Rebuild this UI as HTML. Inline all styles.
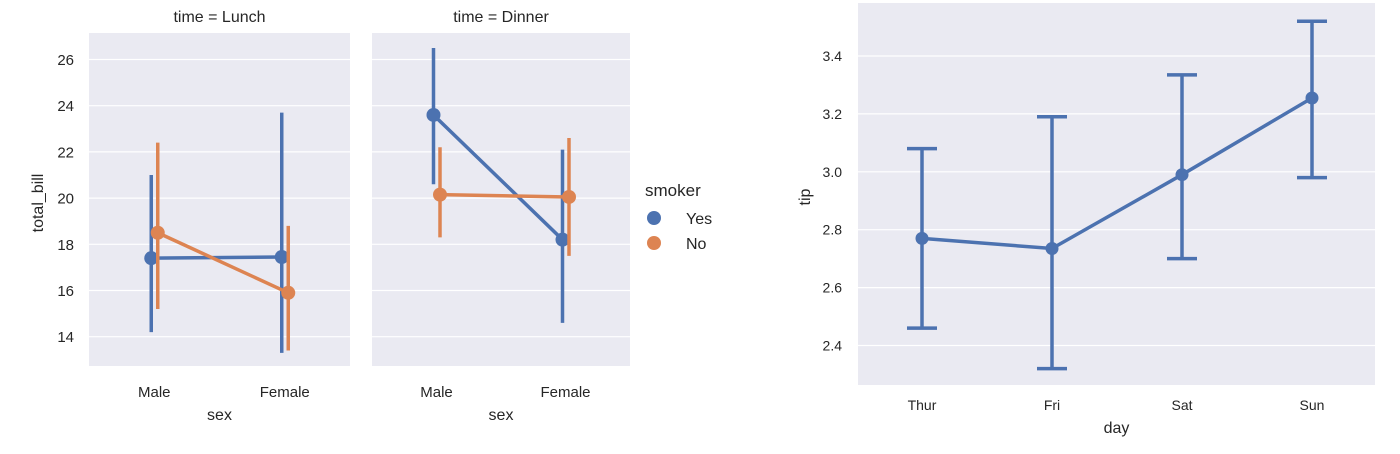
<!DOCTYPE html>
<html><head><meta charset="utf-8"><style>
body{margin:0;background:#fff;}
svg text{font-family:"Liberation Sans",sans-serif;fill:#262626;}
</style></head><body>
<svg id="c" width="1400" height="449" xmlns="http://www.w3.org/2000/svg"></svg>
<script>
// ---- Left facet data ----
const sexCats = ["Male","Female"];
const facets = ["Lunch","Dinner"];
const smokers = ["Yes","No"];
const yTicksL = [14,16,18,20,22,24,26];
const lunchYesMean = [17.4,17.45];
const lunchYesLo = [14.2,13.3];
const lunchYesHi = [21.0,23.7];
const lunchNoMean = [18.5,15.9];
const lunchNoLo = [15.2,13.4];
const lunchNoHi = [22.4,18.8];
const dinnerYesMean = [23.6,18.2];
const dinnerYesLo = [20.6,14.6];
const dinnerYesHi = [26.5,22.1];
const dinnerNoMean = [20.15,20.05];
const dinnerNoLo = [18.3,17.5];
const dinnerNoHi = [22.2,22.6];
// ---- Right chart data ----
const days = ["Thur","Fri","Sat","Sun"];
const tipMean = [2.77,2.735,2.99,3.255];
const tipLo = [2.46,2.32,2.70,2.98];
const tipHi = [3.08,3.19,3.335,3.52];
const yTicksR = [2.4,2.6,2.8,3.0,3.2,3.4];

const NS="http://www.w3.org/2000/svg";
const svg=document.getElementById('c');
function mk(tag,attrs,parent){const e=document.createElementNS(NS,tag);for(const k in attrs)e.setAttribute(k,attrs[k]);(parent||svg).appendChild(e);return e;}
function txt(s,attrs,parent){const e=mk('text',attrs,parent);e.textContent=s;return e;}
const BLUE="#4c72b0", ORANGE="#dd8452";

const yL=v=>59.5+(26-v)*23.1;
const facetX=[89,372], facetW=[261,258];
const plotTop=33, plotBottom=366;
const series={Lunch:{Yes:[lunchYesMean,lunchYesLo,lunchYesHi],No:[lunchNoMean,lunchNoLo,lunchNoHi]},
 Dinner:{Yes:[dinnerYesMean,dinnerYesLo,dinnerYesHi],No:[dinnerNoMean,dinnerNoLo,dinnerNoHi]}};
facets.forEach((f,fi)=>{
  const x0=facetX[fi], w=facetW[fi];
  const g=mk('g',{});
  
  
  const bg=mk('rect',{x:x0,y:plotTop,width:w,height:plotBottom-plotTop,fill:'#eaeaf2'},g);
  
  
  yTicksL.forEach(t=>{
    const l=mk('line',{x1:x0,x2:x0+w,y1:yL(t),y2:yL(t),stroke:'#fff','stroke-width':1.2},g);
    
    
    if(fi===0){const tl=txt(String(t),{x:74,y:yL(t)+5.5,'text-anchor':'end','font-size':15},g);
      
      }
  });
  const title=txt('time = '+f,{x:x0+w/2,y:22,'text-anchor':'middle','font-size':16},g);
  
  
  const xc=i=>x0+w/4+i*w/2;
  sexCats.forEach((c,i)=>{const tl=txt(c,{x:xc(i),y:397,'text-anchor':'middle','font-size':15},g);
    
    });
  const xt=txt('sex',{x:x0+w/2,y:420,'text-anchor':'middle','font-size':16},g);
  
  
  smokers.forEach((s,si)=>{
    const [m,lo,hi]=series[f][s]; const col=si?ORANGE:BLUE; const off=si?3.5:-3;
    sexCats.forEach((c,i)=>{const e=mk('line',{x1:xc(i)+off,x2:xc(i)+off,y1:yL(lo[i]),y2:yL(hi[i]),stroke:col,'stroke-width':3.5},g);
      
      });
    const pl=mk('polyline',{points:sexCats.map((c,i)=>(xc(i)+off)+','+yL(m[i])).join(' '),fill:'none',stroke:col,'stroke-width':3.5},g);
    
    
    sexCats.forEach((c,i)=>{const p=mk('circle',{cx:xc(i)+off,cy:yL(m[i]),r:7,fill:col},g);
      
      });
  });
});
const yt=txt('total_bill',{x:43,y:203,'text-anchor':'middle','font-size':16,transform:'rotate(-90 43 203)'});


const lg=mk('g',{});


const lgt=txt('smoker',{x:645,y:196,'font-size':17},lg);


smokers.forEach((s,si)=>{
  const e=mk('circle',{cx:654,cy:218+si*25,r:7,fill:si?ORANGE:BLUE},lg);
  
  
  const t=txt(s,{x:686,y:224+si*25,'font-size':16},lg);
  
  
});

const rx0=858, rw=517, rt=3, rb=385;
const yR=v=>56+(3.4-v)*289.5;
const xR=i=>922+i*130;
const rg=mk('g',{});


const rbg=mk('rect',{x:rx0,y:rt,width:rw,height:rb-rt,fill:'#eaeaf2'},rg);


yTicksR.forEach(t=>{
  const l=mk('line',{x1:rx0,x2:rx0+rw,y1:yR(t),y2:yR(t),stroke:'#fff','stroke-width':1.2},rg);
  
  
  const tl=txt(t.toFixed(1),{x:842,y:yR(t)+5,'text-anchor':'end','font-size':14},rg);
  
  
});
days.forEach((d,i)=>{
  const tl=txt(d,{x:xR(i),y:410,'text-anchor':'middle','font-size':14},rg);
  
  
  const e=mk('path',{d:`M${xR(i)},${yR(tipLo[i])}V${yR(tipHi[i])}M${xR(i)-15},${yR(tipLo[i])}h30M${xR(i)-15},${yR(tipHi[i])}h30`,stroke:BLUE,'stroke-width':3.5,fill:'none'},rg);
  
  
});
const rl=mk('polyline',{points:days.map((d,i)=>xR(i)+','+yR(tipMean[i])).join(' '),fill:'none',stroke:BLUE,'stroke-width':3.5},rg);


days.forEach((d,i)=>{const p=mk('circle',{cx:xR(i),cy:yR(tipMean[i]),r:6.5,fill:BLUE},rg);
  
  });
const dx=txt('day',{x:rx0+rw/2,y:433,'text-anchor':'middle','font-size':16},rg);


const ty=txt('tip',{x:810,y:197,'text-anchor':'middle','font-size':16,transform:'rotate(-90 810 197)'},rg);


</script>
</body></html>
